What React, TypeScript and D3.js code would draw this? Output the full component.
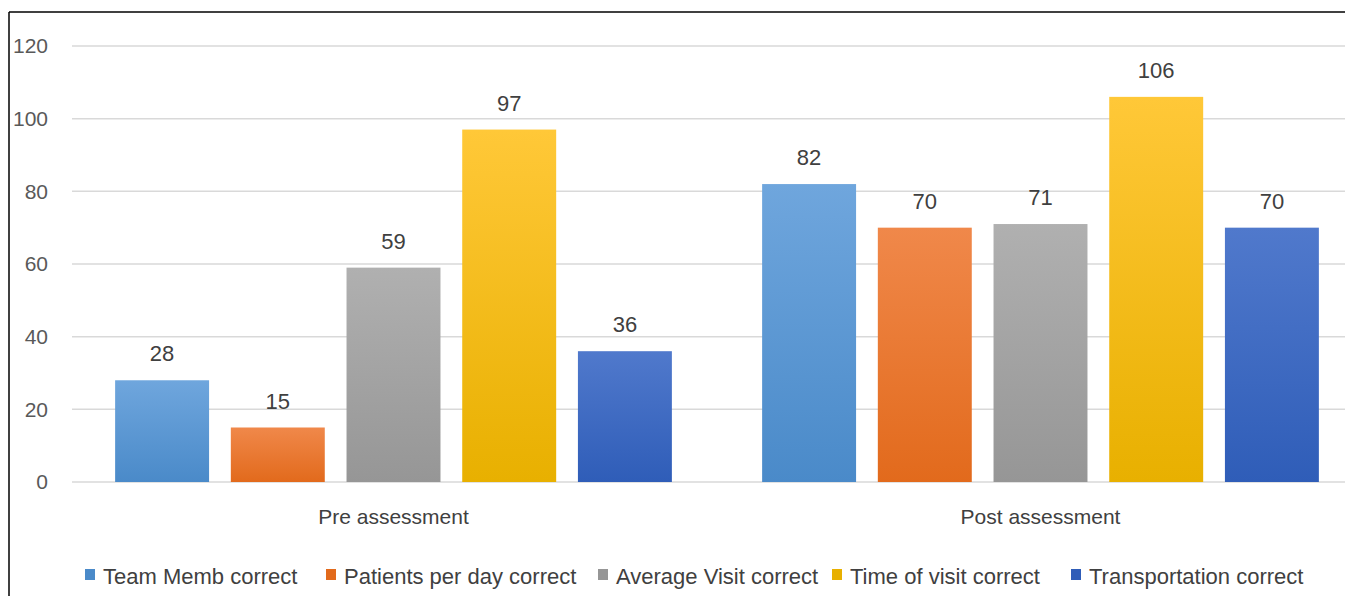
import React from "react";
import * as d3 from "d3";

const categories = ["Pre assessment", "Post assessment"];
const seriesNames = [
  "Team Memb correct",
  "Patients per day correct",
  "Average Visit correct",
  "Time of visit correct",
  "Transportation correct",
];
const teamMemb = [28, 82];
const patientsPerDay = [15, 70];
const averageVisit = [59, 71];
const timeOfVisit = [97, 106];
const transportation = [36, 70];
const yTicks = [0, 20, 40, 60, 80, 100, 120];

const seriesValues = [teamMemb, patientsPerDay, averageVisit, timeOfVisit, transportation];
const colorsTop = ["#6FA6DD", "#F0884A", "#B0B0B0", "#FFC838", "#5079CC"];
const colorsBottom = ["#4A8AC9", "#E26A1C", "#969696", "#E8B000", "#2F5DB8"];
const legendX = [85, 326, 598, 832, 1071];

const W = 1345;
const H = 596;
const FONT = "'Liberation Sans', Arial, sans-serif";

export default function App() {
  const x0 = d3.scaleBand().domain(categories).range([70, 1364]).paddingInner(0).paddingOuter(0);
  const x1 = d3
    .scaleBand()
    .domain(seriesNames)
    .range([0, x0.bandwidth()])
    .paddingInner(0.188)
    .paddingOuter(0.39);
  const y = d3.scaleLinear().domain([0, 120]).range([482, 46]);

  return (
    <svg
      width={W}
      height={H}
      style={{ position: "absolute", left: 0, top: 0, background: "#fff" }}
      fontFamily={FONT}
    >
      <defs>
        {seriesNames.map((s, i) => (
          <linearGradient key={s} id={`g${i}`} x1="0" y1="0" x2="0" y2="1">
            <stop offset="0%" stopColor={colorsTop[i]} />
            <stop offset="100%" stopColor={colorsBottom[i]} />
          </linearGradient>
        ))}
      </defs>
      <rect x={0} y={0} width={W} height={H} fill="#fff" />
      <line x1={9} x2={W} y1={12} y2={12} stroke="#000" strokeWidth={1.5} />
      <line x1={9} x2={9} y1={12} y2={H} stroke="#000" strokeWidth={1.5} />

      {yTicks.map((t) => (
        <g key={t}>
          <line x1={72} x2={W} y1={y(t)} y2={y(t)} stroke="#D9D9D9" strokeWidth={1.5} />
          <text x={48} y={y(t)} dy="0.35em" textAnchor="end" fontSize={21} fill="#595959">
            {t}
          </text>
        </g>
      ))}

      {categories.map((c, ci) => (
        <g key={c}>
          {seriesNames.map((s, si) => {
            const v = seriesValues[si][ci];
            const bx = (x0(c) as number) + (x1(s) as number);
            const bw = x1.bandwidth();
            return (
              <g key={s}>
                <rect
                  x={bx}
                  y={y(v)}
                  width={bw}
                  height={y(0) - y(v)}
                  fill={`url(#g${si})`}
                />
                <text
                  x={bx + bw / 2}
                  y={y(v) - 19}
                  textAnchor="middle"
                  fontSize={22}
                  fill="#404040"
                >
                  {v}
                </text>
              </g>
            );
          })}
          <text
            x={(x0(c) as number) + x0.bandwidth() / 2}
            y={524}
            textAnchor="middle"
            fontSize={21}
            fill="#404040"
          >
            {c}
          </text>
        </g>
      ))}

      {seriesNames.map((s, i) => (
        <g key={s}>
          <rect x={legendX[i]} y={569} width={10} height={11} fill={colorsBottom[i]} />
          <text x={legendX[i] + 18} y={584} fontSize={22} fill="#404040">
            {s}
          </text>
        </g>
      ))}
    </svg>
  );
}
